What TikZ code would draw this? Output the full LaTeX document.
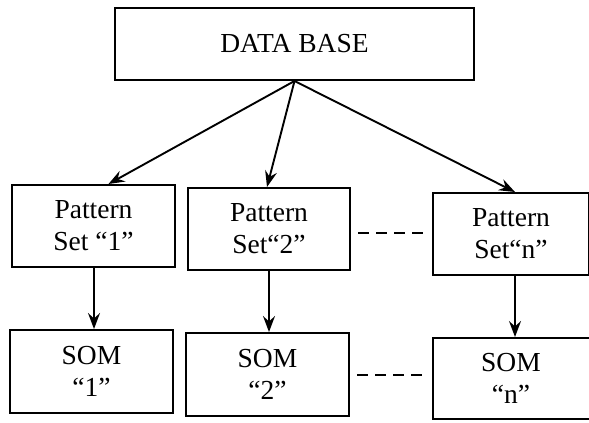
\documentclass[tikz,border=0pt]{standalone}
\usepackage{fontspec}
\setmainfont{Liberation Serif}
\usetikzlibrary{arrows.meta,calc}
\begin{document}
\begin{tikzpicture}[x=1pt,y=-1pt,
  box/.style={draw,line width=2pt,rectangle,align=center,inner sep=0pt,
    font=\fontsize{27.5}{32}\selectfont},
  link/.style={line width=1.9pt,-{Stealth[length=16pt,width=12pt,inset=5.5pt]}},
  gap/.style={line width=2.1pt,dash pattern=on 11pt off 7pt}]
\useasboundingbox (0,0) rectangle (589,423);
% top store and the per-set boxes
\node[box,minimum width=359pt,minimum height=72pt] (db) at (294.5,44) {DATA BASE};
\node[box,minimum width=163pt,minimum height=82pt] (p1) at (93.5,226) {Pattern\\Set “1”};
\node[box,minimum width=162pt,minimum height=82pt] (p2) at (269,229) {Pattern\\Set“2”};
\node[box,minimum width=156pt,minimum height=82pt] (pn) at (511,234) {Pattern\\Set“n”};
\node[box,minimum width=163pt,minimum height=83pt] (s1) at (91.5,371.5) {SOM\\“1”};
\node[box,minimum width=163pt,minimum height=83pt] (s2) at (267.5,374.5) {SOM\\“2”};
\node[box,minimum width=157pt,minimum height=81pt] (sn) at (511,378.5) {SOM\\“n”};
% fan-out from the data base
\draw[link] (db.south) -- ([xshift=15pt]p1.north);
\draw[link] (db.south) -- ([xshift=-2pt]p2.north);
\draw[link] (db.south) -- ([xshift=4pt]pn.north);
% each pattern set feeds its own map
\draw[link] ([xshift=0.5pt]p1.south) -- ([xshift=0.5pt]p1.south |- s1.north);
\draw[link] (p2.south) -- (p2.south |- s2.north);
\draw[link] ([xshift=4pt]pn.south) -- ([xshift=4pt]pn.south |- sn.north);
% elided columns
\draw[gap] ($(p2.east)+(7,4)$) -- ($(pn.west)+(-8,-1)$);
\draw[gap] ($(s2.east)+(7,0.5)$) -- ($(sn.west)+(-8,-3.5)$);
\end{tikzpicture}
\end{document}
